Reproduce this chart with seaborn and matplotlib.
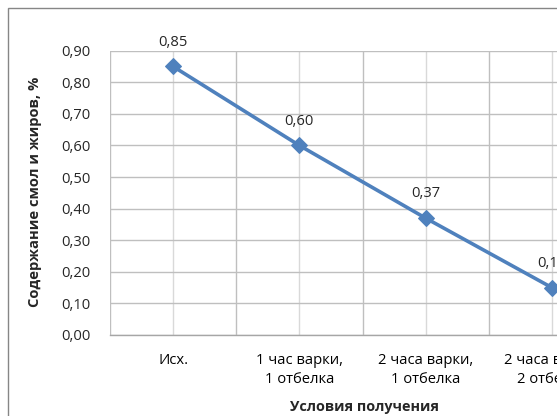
import matplotlib
matplotlib.use("Agg")
import matplotlib.pyplot as plt
import seaborn as sns
import pandas as pd
from matplotlib.patches import Rectangle
from matplotlib.ticker import FixedLocator, MultipleLocator

categories = ["Исх.", "1 час варки,\n1 отбелка", "2 часа варки,\n1 отбелка", "2 часа варки,\n2 отбелки"]
values = [0.85, 0.60, 0.37, 0.15]
value_labels = ["0,85", "0,60", "0,37", "0,15"]
y_label = "Содержание смол и жиров, %"
x_label = "Условия получения"

sns.set_style("white")
plt.rcParams["font.family"] = ["Open Sans", "DejaVu Sans"]

W, H = 557, 416
fig = plt.figure(figsize=(W / 100, H / 100), dpi=100)

# chart frame
fig.patches.append(Rectangle((8 / W, -0.1), 1.2, (H - 8) / H + 0.1, transform=fig.transFigure,
                             fill=False, edgecolor="#868686", linewidth=1.0))

ax = fig.add_axes([110 / W, (H - 335) / H, (615 - 110) / W, (335 - 50.7) / H])

df = pd.DataFrame({"cond": categories, "val": values})
df["pos"] = range(len(categories))
sns.lineplot(data=df, x="pos", y="val", ax=ax, sort=False, color="#4F81BD",
             linewidth=2.6, marker="D", markersize=8.5, markeredgecolor="#4F81BD")

ax.set_xlim(-0.5, 3.5)
ax.set_ylim(0, 0.9)
ax.yaxis.set_major_locator(MultipleLocator(0.1))
ax.set_yticklabels([f"{v:.2f}".replace(".", ",") for v in ax.get_yticks()])

ax.set_xticks(range(len(categories)))
ax.set_xticklabels(categories, linespacing=1.4)
ax.xaxis.set_minor_locator(FixedLocator([-0.5, 0.5, 1.5, 2.5, 3.5]))
ax.tick_params(axis="x", which="major", length=0, pad=13, labelsize=10.6, colors="#000000")
ax.tick_params(axis="x", which="minor", length=5, width=1, color="#A6A6A6", direction="out")
ax.tick_params(axis="y", length=0, pad=14, labelsize=10.6)

ax.grid(True, axis="y", color="#BFBFBF", linewidth=1)
ax.grid(True, axis="x", which="major", color="#D9D9D9", linewidth=1)
ax.grid(True, axis="x", which="minor", color="#BFBFBF", linewidth=1)
ax.set_axisbelow(True)

for s in ["top", "right", "left"]:
    ax.spines[s].set_visible(False)
ax.spines["bottom"].set_color("#A6A6A6")
ax.spines["bottom"].set_linewidth(1)

for x, v, lab in zip(df["pos"], values, value_labels):
    ax.annotate(lab, (x, v), xytext=(0, 17.5), textcoords="offset points",
                ha="center", va="center", fontsize=10.6)

ax.set_xlabel("")
ax.set_ylabel("")
fig.text(35 / W, (H - 192) / H, y_label, rotation=90, ha="center", va="center",
         fontsize=10.6, fontweight="bold")
fig.text(364 / W, (H - 407) / H, x_label, ha="center", va="center",
         fontsize=10.4, fontweight="bold")

fig.savefig("out.png", dpi=100)
